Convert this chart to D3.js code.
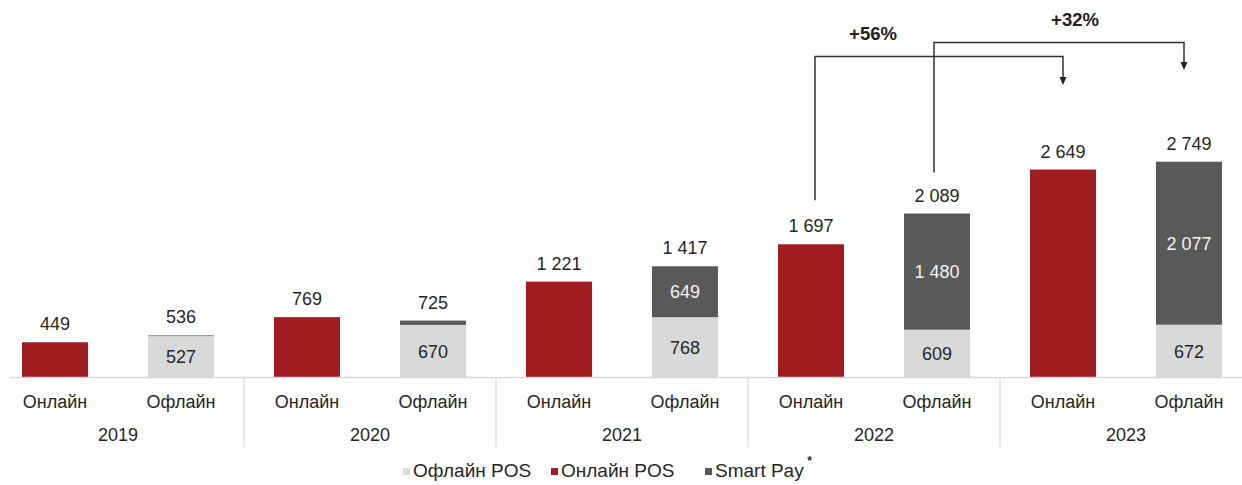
<!DOCTYPE html>
<html>
<head>
<meta charset="utf-8">
<script src="https://cdn.jsdelivr.net/npm/d3@7"></script>
<style>
  html, body { margin: 0; padding: 0; background: #fff; }
  svg { display: block; font-family: "Liberation Sans", Arial, sans-serif; }
</style>
</head>
<body>
<svg id="chart" width="1242" height="485"></svg>
<script>
// ---- data ----
const years = ["2019", "2020", "2021", "2022", "2023"];
const channels = ["Онлайн", "Офлайн"];
const onlinePOS = [449, 769, 1221, 1697, 2649];
const offlinePOS = [527, 670, 768, 609, 672];
const smartPay = [9, 55, 649, 1480, 2077];
const offlineTotal = [536, 725, 1417, 2089, 2749];
const legendLabels = ["Офлайн POS", "Онлайн POS", "Smart Pay"];
const growthLabels = ["+56%", "+32%"];

// ---- setup ----
const svg = d3.select("#chart");
const colors = { offline: "#d9d9d9", online: "#a01c20", smart: "#595959" };
const textColor = "#262626";
const fmt = v => d3.format(",")(v).replace(/,/g, " ");

const keys = [];
years.forEach(y => channels.forEach(c => keys.push(y + "|" + c)));

const x = d3.scaleBand().domain(keys).range([-8, 1252]).paddingInner(0.476).paddingOuter(0.238);
const y = d3.scaleLinear().domain([0, 3000]).range([377.5, 377.5 - 0.0785 * 3000]);
const baseY = y(0);

// stacked data for offline bars
const stackRows = years.map((yr, i) => ({ key: yr + "|Офлайн", offline: offlinePOS[i], smart: smartPay[i] }));
const stack = d3.stack().keys(["offline", "smart"])(stackRows);

const g = svg.append("g");

// online bars
g.selectAll("rect.online").data(years).join("rect")
  .attr("class", "online")
  .attr("x", d => x(d + "|Онлайн"))
  .attr("width", x.bandwidth())
  .attr("y", (d, i) => y(onlinePOS[i]))
  .attr("height", (d, i) => baseY - y(onlinePOS[i]))
  .attr("fill", colors.online);

// offline stacked bars
stack.forEach(layer => {
  g.selectAll("rect." + layer.key).data(layer).join("rect")
    .attr("class", layer.key)
    .attr("x", d => x(d.data.key))
    .attr("width", x.bandwidth())
    .attr("y", d => y(d[1]))
    .attr("height", d => y(d[0]) - y(d[1]))
    .attr("fill", layer.key === "offline" ? colors.offline : colors.smart);
});

// axis baseline
const axis = d3.axisBottom(x).tickSize(0).tickFormat(d => d.split("|")[1]);
const axG = svg.append("g").attr("transform", `translate(0,${baseY})`).call(axis);
axG.select(".domain").attr("d", `M10,0H1242`).attr("stroke", "#d9d9d9").attr("stroke-width", 1.5);
axG.selectAll(".tick text")
  .attr("y", 30).attr("dy", 0)
  .attr("font-size", 18).attr("fill", textColor)
  .attr("font-family", '"Liberation Sans", Arial, sans-serif');

// group separators and year labels
const groupStep = x.step() * 2;
years.forEach((yr, i) => {
  const left = x(yr + "|Онлайн") - x.step() * x.paddingInner() / 2;
  if (i > 0) {
    svg.append("line")
      .attr("x1", left).attr("x2", left)
      .attr("y1", baseY).attr("y2", baseY + 70)
      .attr("stroke", "#d9d9d9").attr("stroke-width", 1.2);
  }
  svg.append("text")
    .attr("x", left + groupStep / 2)
    .attr("y", baseY + 63)
    .attr("text-anchor", "middle")
    .attr("font-size", 18).attr("fill", textColor)
    .text(yr);
});

// total labels
const cx = k => x(k) + x.bandwidth() / 2;
years.forEach((yr, i) => {
  g.append("text").attr("x", cx(yr + "|Онлайн")).attr("y", y(onlinePOS[i]) - 12)
    .attr("text-anchor", "middle").attr("font-size", 18).attr("fill", textColor)
    .text(fmt(onlinePOS[i]));
  g.append("text").attr("x", cx(yr + "|Офлайн")).attr("y", y(offlineTotal[i]) - 12)
    .attr("text-anchor", "middle").attr("font-size", 18).attr("fill", textColor)
    .text(fmt(offlineTotal[i]));
  // inside labels
  g.append("text").attr("x", cx(yr + "|Офлайн"))
    .attr("y", (y(0) + y(offlinePOS[i])) / 2 + 6.5)
    .attr("text-anchor", "middle").attr("font-size", 18).attr("fill", textColor)
    .text(fmt(offlinePOS[i]));
  if (smartPay[i] > 100) {
    g.append("text").attr("x", cx(yr + "|Офлайн"))
      .attr("y", (y(offlinePOS[i]) + y(offlinePOS[i] + smartPay[i])) / 2 + 6.5)
      .attr("text-anchor", "middle").attr("font-size", 18).attr("fill", "#f2f2f2")
      .text(fmt(smartPay[i]));
  }
});

// growth brackets
const growth = [
  { from: "2022|Онлайн", to: "2023|Онлайн", fromVal: onlinePOS[3], label: growthLabels[0], topY: 56.5, tipY: 85, dxFrom: 4, dxTo: 0, endGap: 44, labelX: 873, labelY: 40 },
  { from: "2022|Офлайн", to: "2023|Офлайн", fromVal: offlineTotal[3], label: growthLabels[1], topY: 42.5, tipY: 70, dxFrom: -3, dxTo: -5, endGap: 41, labelX: 1075, labelY: 26 }
];
growth.forEach(gr => {
  const x1 = cx(gr.from) + gr.dxFrom, x2 = cx(gr.to) + gr.dxTo;
  const yStart = y(gr.fromVal) - gr.endGap;
  svg.append("path")
    .attr("d", `M${x1},${yStart}V${gr.topY}H${x2}V${gr.tipY - 7}`)
    .attr("fill", "none").attr("stroke", "#333").attr("stroke-width", 1.5);
  svg.append("path")
    .attr("d", `M${x2 - 3.5},${gr.tipY - 8}L${x2 + 3.5},${gr.tipY - 8}L${x2},${gr.tipY}Z`)
    .attr("fill", "#222");
  svg.append("text").attr("x", gr.labelX).attr("y", gr.labelY)
    .attr("text-anchor", "middle").attr("font-size", 18.5).attr("font-weight", "bold")
    .attr("fill", "#222").text(gr.label);
});

// legend
const legendColors = [colors.offline, colors.online, colors.smart];
const legendX = [403, 551, 705];
const lg = svg.append("g");
legendLabels.forEach((lab, i) => {
  lg.append("rect").attr("x", legendX[i]).attr("y", 468).attr("width", 7).attr("height", 7)
    .attr("fill", legendColors[i]);
  const t = lg.append("text").attr("x", legendX[i] + 10).attr("y", 477)
    .attr("font-size", 19).attr("fill", textColor).text(lab);
  if (i === 2) {
    const bb = t.node().getBBox();
    lg.append("text").attr("x", bb.x + bb.width + 3).attr("y", 465)
      .attr("font-size", 12).attr("font-weight", "bold").attr("fill", textColor).text("*");
  }
});
</script>
</body>
</html>
